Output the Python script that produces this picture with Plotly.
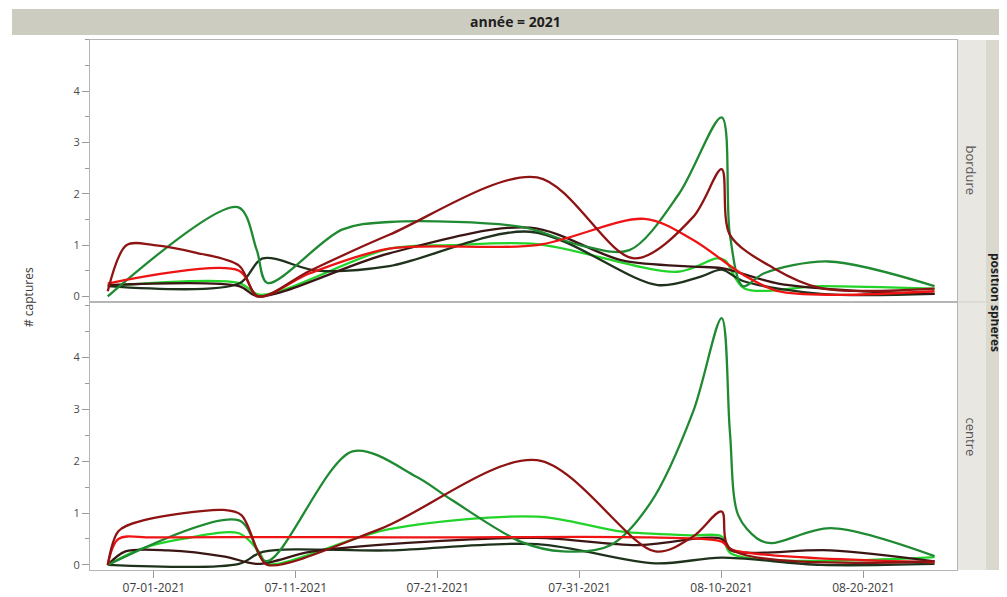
import plotly.graph_objects as go
from plotly.subplots import make_subplots

# ---------------- data ----------------
series_names = ["vert", "vert fonce", "noir vert", "noir rouge", "rouge fonce", "rouge"]
series_colors = ["#22d42a", "#1f8a32", "#1f331c", "#3a1714", "#8e1414", "#ee1414"]

# bordure panel
b_vert_x = ["2021-06-27 18:00", "2021-07-07", "2021-07-08 12:00", "2021-07-17 14:00", "2021-07-22", "2021-07-28",
            "2021-08-06 22:00", "2021-08-09 16:00", "2021-08-10 06:00", "2021-08-11 14:00", "2021-08-17", "2021-08-25"]
b_vert_y = [0.2, 0.26, 0.03, 0.93, 1.0, 1.02, 0.48, 0.74, 0.7, 0.16, 0.2, 0.15]

b_vfonce_x = ["2021-06-27 18:00", "2021-07-06 22:00", "2021-07-08 06:00", "2021-07-09", "2021-07-14 06:00",
              "2021-07-17 14:00", "2021-07-27", "2021-07-31", "2021-08-03 12:00", "2021-08-07", "2021-08-10",
              "2021-08-10 14:00", "2021-08-11 12:00", "2021-08-13", "2021-08-17 12:00", "2021-08-25"]
b_vfonce_y = [0.0, 1.74, 0.9, 0.26, 1.3, 1.45, 1.35, 1.0, 0.9, 2.0, 3.49, 1.2, 0.2, 0.45, 0.68, 0.2]

b_nvert_x = ["2021-06-27 18:00", "2021-07-07", "2021-07-08 16:00", "2021-07-12 12:00", "2021-07-17 14:00",
             "2021-07-27 12:00", "2021-08-05 12:00", "2021-08-08 14:00", "2021-08-10", "2021-08-11 12:00",
             "2021-08-17", "2021-08-25"]
b_nvert_y = [0.2, 0.25, 0.74, 0.5, 0.59, 1.26, 0.22, 0.39, 0.52, 0.3, 0.05, 0.05]

b_nrouge_x = ["2021-06-27 18:00", "2021-07-07", "2021-07-08 08:00", "2021-07-17 14:00", "2021-07-27 12:00",
              "2021-08-03", "2021-08-08", "2021-08-10", "2021-08-14", "2021-08-20", "2021-08-25"]
b_nrouge_y = [0.22, 0.2, 0.0, 0.84, 1.34, 0.7, 0.58, 0.55, 0.25, 0.1, 0.05]

b_rfonce_x = ["2021-06-27 18:00", "2021-06-29 02:00", "2021-07-01", "2021-07-04", "2021-07-07", "2021-07-08 08:00",
              "2021-07-12", "2021-07-17 14:00", "2021-07-28", "2021-08-03 20:00", "2021-08-08", "2021-08-10",
              "2021-08-10 14:00", "2021-08-13 16:00", "2021-08-17", "2021-08-25"]
b_rfonce_y = [0.1, 1.0, 1.0, 0.85, 0.6, 0.0, 0.5, 1.2, 2.32, 0.74, 1.55, 2.48, 1.2, 0.55, 0.16, 0.15]

b_rouge_x = ["2021-06-27 18:00", "2021-07-07", "2021-07-08 08:00", "2021-07-12", "2021-07-17 14:00", "2021-07-28",
             "2021-08-04 14:00", "2021-08-08", "2021-08-11 14:00", "2021-08-14", "2021-08-18", "2021-08-25"]
b_rouge_y = [0.25, 0.5, 0.0, 0.45, 0.93, 1.0, 1.51, 1.1, 0.41, 0.1, 0.03, 0.1]

# centre panel
c_vert_x = ["2021-06-27 18:00", "2021-06-30", "2021-07-03", "2021-07-07", "2021-07-08 10:00", "2021-07-09",
            "2021-07-17 14:00", "2021-07-28", "2021-08-03", "2021-08-08", "2021-08-10", "2021-08-10 16:00",
            "2021-08-25"]
c_vert_y = [0.0, 0.3, 0.5, 0.61, 0.25, 0.02, 0.69, 0.93, 0.64, 0.57, 0.55, 0.22, 0.15]

c_vfonce_x = ["2021-06-27 18:00", "2021-07-07", "2021-07-08 22:00", "2021-07-15", "2021-07-19 12:00",
              "2021-07-22", "2021-07-26 20:00", "2021-07-29 20:00", "2021-08-02 04:00", "2021-08-05",
              "2021-08-08", "2021-08-10", "2021-08-10 14:00", "2021-08-11 04:00", "2021-08-12 12:00",
              "2021-08-13 12:00", "2021-08-17 16:00", "2021-08-25"]
c_vfonce_y = [0.0, 0.86, 0.07, 2.19, 1.7, 1.25, 0.45, 0.26, 0.38, 1.2, 2.96, 4.76, 2.57, 0.96, 0.51, 0.42, 0.71,
              0.17]

c_nvert_x = ["2021-06-27 18:00", "2021-07-07", "2021-07-08 16:00", "2021-07-17 14:00", "2021-07-28",
             "2021-08-05 08:00", "2021-08-10", "2021-08-17", "2021-08-25"]
c_nvert_y = [0.0, 0.02, 0.25, 0.28, 0.4, 0.03, 0.14, 0.0, 0.02]

c_nrouge_x = ["2021-06-27 18:00", "2021-06-29", "2021-07-02", "2021-07-06", "2021-07-08 08:00", "2021-07-12",
              "2021-07-17 14:00", "2021-07-28", "2021-08-04", "2021-08-10", "2021-08-10 16:00", "2021-08-17 16:00",
              "2021-08-25"]
c_nrouge_y = [0.0, 0.26, 0.28, 0.16, 0.02, 0.25, 0.4, 0.52, 0.38, 0.5, 0.28, 0.28, 0.07]

c_rfonce_x = ["2021-06-27 18:00", "2021-06-28 12:00", "2021-06-30", "2021-07-05 22:00", "2021-07-07 04:00",
              "2021-07-08 08:00", "2021-07-09", "2021-07-17", "2021-07-28", "2021-08-05 08:00", "2021-08-08",
              "2021-08-10", "2021-08-10 14:00", "2021-08-25"]
c_rfonce_y = [0.0, 0.65, 0.84, 1.06, 0.96, 0.26, 0.0, 0.7, 2.02, 0.26, 0.55, 1.03, 0.32, 0.07]

c_rouge_x = ["2021-06-27 18:00", "2021-06-28 12:00", "2021-07-01", "2021-07-20", "2021-08-05", "2021-08-10",
             "2021-08-10 16:00", "2021-08-25"]
c_rouge_y = [0.0, 0.5, 0.53, 0.53, 0.53, 0.45, 0.3, 0.05]

bordure_x = [b_vert_x, b_vfonce_x, b_nvert_x, b_nrouge_x, b_rfonce_x, b_rouge_x]
bordure_y = [b_vert_y, b_vfonce_y, b_nvert_y, b_nrouge_y, b_rfonce_y, b_rouge_y]
centre_x = [c_vert_x, c_vfonce_x, c_nvert_x, c_nrouge_x, c_rfonce_x, c_rouge_x]
centre_y = [c_vert_y, c_vfonce_y, c_nvert_y, c_nrouge_y, c_rfonce_y, c_rouge_y]

x_tickvals = ["2021-07-01", "2021-07-11", "2021-07-21", "2021-07-31", "2021-08-10", "2021-08-20"]
x_ticktext = ["07-01-2021", "07-11-2021", "07-21-2021", "07-31-2021", "08-10-2021", "08-20-2021"]
y_tickvals = [0, 1, 2, 3, 4]
row_labels = ["bordure", "centre"]

# ---------------- figure ----------------
OFF = 8  # page body margin
W, H = 1007 - OFF, 597 - OFF
fig = make_subplots(rows=2, cols=1, shared_xaxes=True, vertical_spacing=0)

order = [0, 2, 3, 1, 5, 4]
for row, (xs, ys) in enumerate([(bordure_x, bordure_y), (centre_x, centre_y)], start=1):
    for i in order:
        fig.add_trace(go.Scatter(x=xs[i], y=ys[i], mode="lines", name=series_names[i],
                                 line=dict(color=series_colors[i], width=2.3, shape="spline", smoothing=0.9),
                                 showlegend=False, hoverinfo="skip"), row=row, col=1)


def px_x(p):
    return (p - OFF) / W


def px_y(p):
    return 1 - (p - OFF) / H


x0, x1 = px_x(90), px_x(957)
top_y0, top_y1 = px_y(303), px_y(40)
bot_y0, bot_y1 = px_y(572), px_y(303)

font_fam = "Open Sans, Noto Sans, DejaVu Sans, sans-serif"
axis_common = dict(showgrid=False, zeroline=False, showline=True, linecolor="#b5b5b5", linewidth=1,
                   mirror=True)
fig.update_xaxes(type="date", range=["2021-06-26 12:00", "2021-08-26 14:00"], domain=[x0, x1],
                 tickvals=x_tickvals, ticktext=x_ticktext, **axis_common)
fig.update_xaxes(ticks="", showticklabels=False, row=1, col=1)
fig.update_xaxes(ticks="outside", ticklen=7, tickcolor="#9a9a9a", showticklabels=True,
                 tickfont=dict(family=font_fam, size=12, color="#3c3c3c"), row=2, col=1)

yax = dict(range=[-0.11, 5.0], tickvals=y_tickvals, ticks="outside", ticklen=7, tickcolor="#9a9a9a",
           tickfont=dict(family=font_fam, size=11, color="#4a4a4a"),
           minor=dict(ticks="outside", ticklen=4, tickcolor="#9a9a9a", dtick=0.5, tick0=0))
fig.update_yaxes(domain=[top_y0, top_y1], **yax, **axis_common, row=1, col=1)
yax["range"] = [-0.1, 5.07]
fig.update_yaxes(domain=[bot_y0, bot_y1], **yax, **axis_common, row=2, col=1)

shapes = [
    # header strip
    dict(type="rect", xref="paper", yref="paper", x0=px_x(12), x1=1.0, y0=px_y(35), y1=px_y(9),
         fillcolor="#cdccc0", line=dict(width=0), layer="below"),
    # row strips
    dict(type="rect", xref="paper", yref="paper", x0=px_x(958), x1=px_x(986), y0=top_y0, y1=top_y1,
         fillcolor="#e8e7e2", line=dict(width=0), layer="below"),
    dict(type="rect", xref="paper", yref="paper", x0=px_x(958), x1=px_x(986), y0=bot_y0, y1=bot_y1,
         fillcolor="#e8e7e2", line=dict(width=0), layer="below"),
    dict(type="line", xref="paper", yref="paper", x0=px_x(958), x1=px_x(986), y0=top_y0, y1=top_y0,
         line=dict(color="#cfcfc8", width=1)),
    # outer strip
    dict(type="rect", xref="paper", yref="paper", x0=px_x(986), x1=1.0, y0=bot_y0, y1=top_y1,
         fillcolor="#dad9ce", line=dict(width=0), layer="below"),
]

annotations = [
    dict(text="<b>année = 2021</b>", xref="paper", yref="paper", x=px_x(515), y=px_y(22),
         xanchor="center", yanchor="middle",
         showarrow=False, font=dict(family=font_fam, size=14, color="#1e1e1e")),
    dict(text="# captures", xref="paper", yref="paper", x=px_x(28), y=px_y(298), textangle=-90,
         xanchor="center", yanchor="middle",
         showarrow=False, font=dict(family=font_fam, size=12, color="#3c3c3c")),
    dict(text="<b>position spheres</b>", xref="paper", yref="paper", x=px_x(995), y=px_y(303), textangle=90,
         xanchor="center", yanchor="middle",
         showarrow=False, font=dict(family=font_fam, size=12, color="#1e1e1e")),
]
for lab, yc in zip(row_labels, [px_y(171), px_y(438)]):
    annotations.append(dict(text=lab, xref="paper", yref="paper", x=px_x(971), y=yc, textangle=90,
                            xanchor="center", yanchor="middle",
                            showarrow=False, font=dict(family=font_fam, size=13, color="#555555")))

fig.update_layout(width=W, height=H, margin=dict(l=0, r=0, t=0, b=0), paper_bgcolor="white",
                  plot_bgcolor="white", shapes=shapes, annotations=annotations)

fig.write_html("out.html")
